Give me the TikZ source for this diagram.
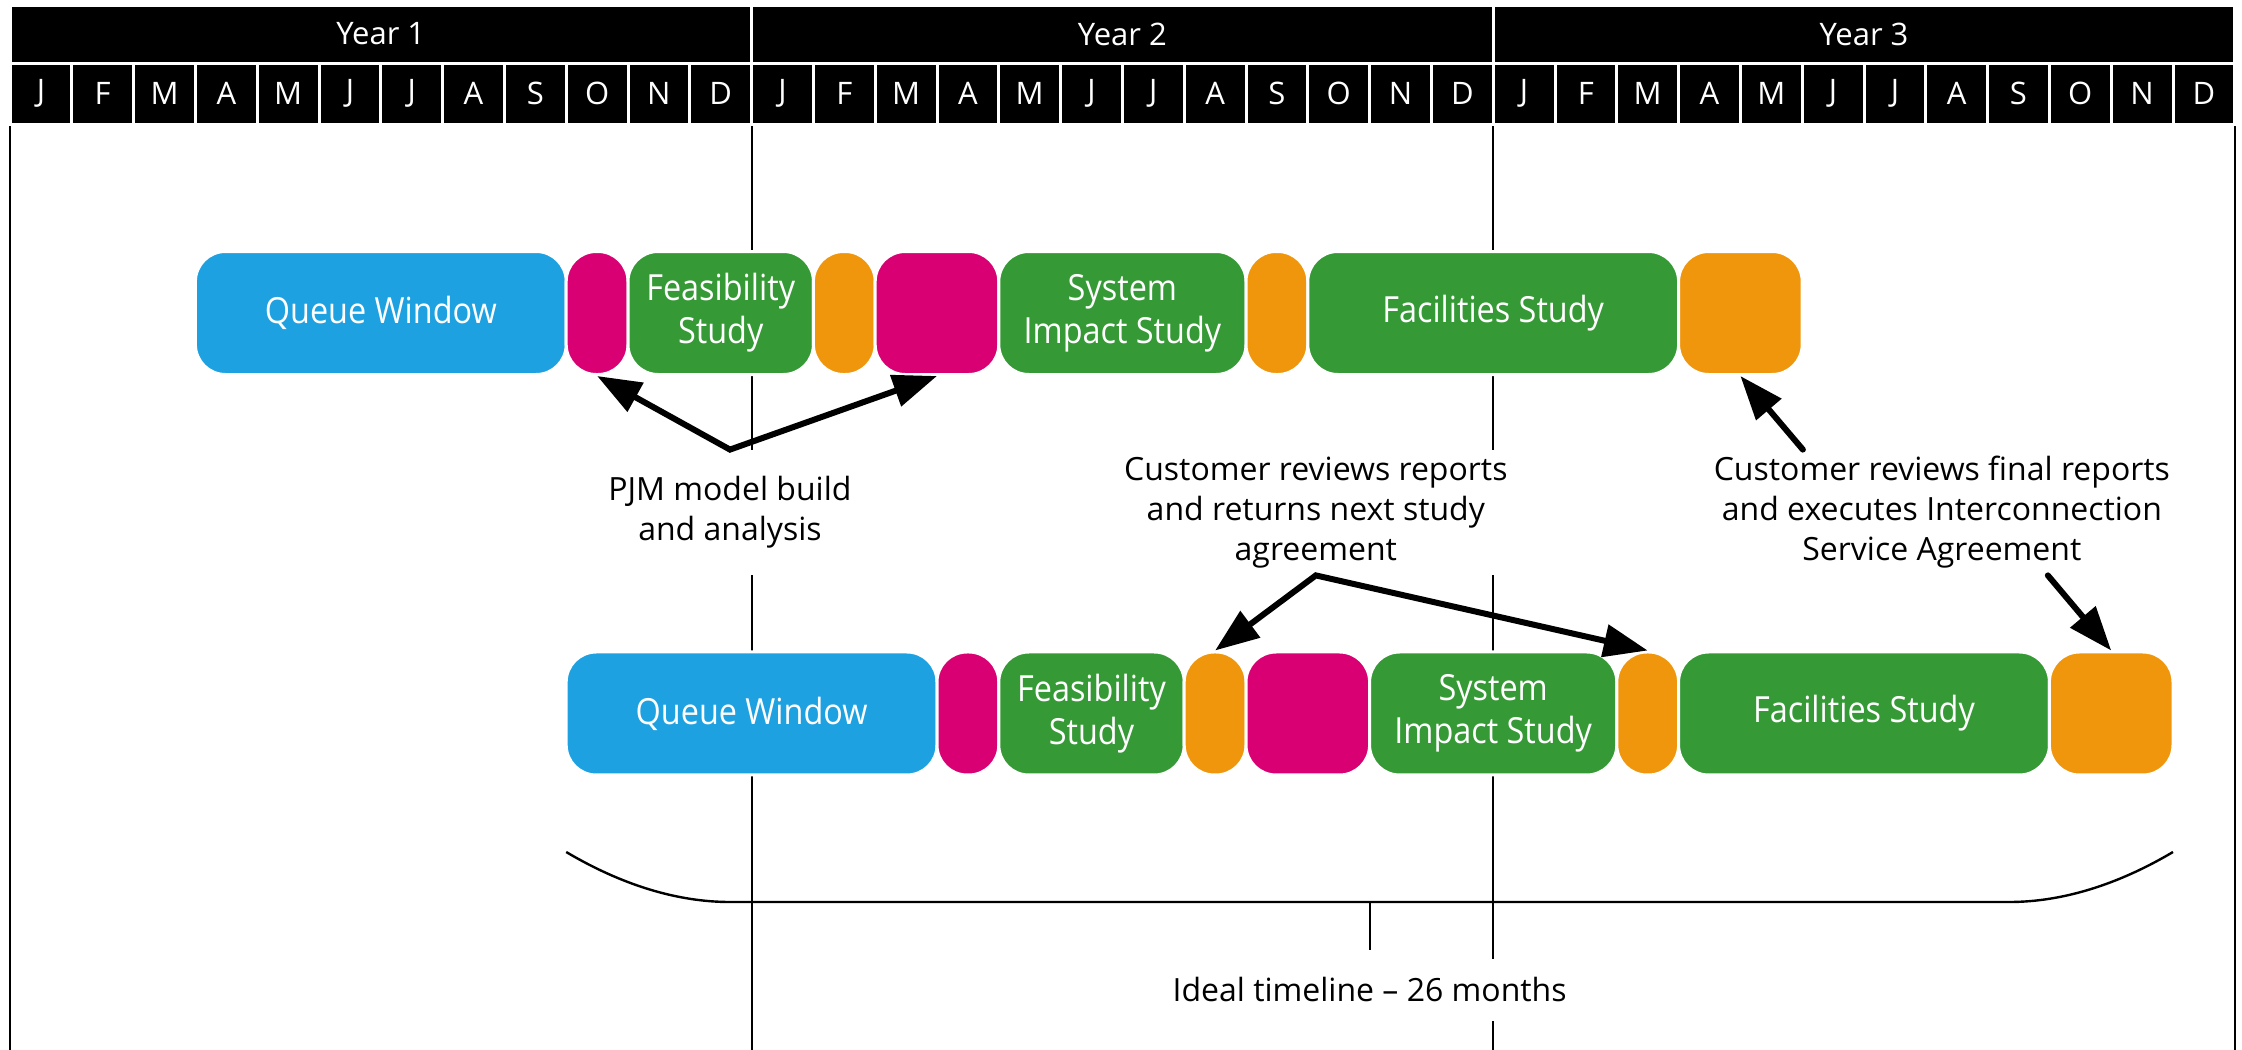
\documentclass[tikz,border=0pt]{standalone}
\usepackage{fontspec}
\setmainfont{Open Sans}
\newfontfamily\boxfont[FakeStretch=0.9]{Open Sans}
\usetikzlibrary{arrows.meta}

\definecolor{queueblue}{RGB}{30,161,225}
\definecolor{modelmagenta}{RGB}{217,0,115}
\definecolor{studygreen}{RGB}{53,154,53}
\definecolor{revieworange}{RGB}{240,150,12}

% one month on the time axis
\newcommand{\monthw}{30.9pt}

\tikzset{
  headcell/.style={fill=black, draw=white, line width=1.5pt, text=white,
    font=\fontsize{15.5}{18}\selectfont},
  frameline/.style={line width=1pt},
  phasebox/.style={draw=white, line width=1.5pt, rounded corners=15pt,
    minimum height=61.5pt, inner sep=0pt, text=white, align=center,
    font=\boxfont\fontsize{18}{21.5}\selectfont},
  queuebox/.style={phasebox, fill=queueblue},
  modelbox/.style={phasebox, fill=modelmagenta},
  studybox/.style={phasebox, fill=studygreen},
  reviewbox/.style={phasebox, fill=revieworange},
  notebox/.style={fill=white, align=center, minimum height=62.5pt,
    inner xsep=4pt, inner ysep=0pt, font=\fontsize{16}{20}\selectfont},
  pointer/.style={line width=3pt},
}

\begin{document}
\begin{tikzpicture}[x=\monthw,y=-0.5pt,>={Triangle[length=22pt,width=16pt]}]
\useasboundingbox (-0.162,0) rectangle (36.117,1050);

% Frame and year lines
\foreach \x in {0,12,24,36} {
  \draw[frameline] (\x,124) -- (\x,1050);
}

% Header: years
\foreach \yr [count=\n] in {0,12,24} {
  \draw[headcell] (\yr,5) rectangle (\yr+12,63) node[midway] (year\n) {Year \n};
}

% Header: months
\foreach \yr in {0,12,24} {
  \foreach \m [count=\i from 0] in {J,F,M,A,M,J,J,A,S,O,N,D} {
    \draw[headcell] (\yr+\i,63) rectangle (\yr+\i+1,124.5) node[midway] (mon\yr-\i) {\m};
  }
}

% Study boxes (second row starts six months later)
\foreach \row/\off/\y in {t/0/313, b/6/713.5} {
  \foreach \id/\ms/\me/\kind/\txt in {
      qw/3/9/queuebox/Queue Window,
      mod1/9/10/modelbox/{},
      fs/10/13/studybox/Feasibility\\Study,
      rev1/13/14/reviewbox/{},
      mod2/14/16/modelbox/{},
      sis/16/20/studybox/System\\Impact Study,
      rev2/20/21/reviewbox/{},
      fac/21/27/studybox/Facilities Study,
      rev3/27/29/reviewbox/{}} {
    \node[\kind, minimum width={(\me-\ms)*\monthw}] (\row\id) at ({\off+(\ms+\me)/2},\y) {\txt};
  }
}

% Notes
\node[notebox] (pjm) at (11.65,512.5) {PJM model build\\and analysis};
\node[notebox] (cust) at (21.13,512.5) {Customer reviews reports\\and returns next study\\agreement};
\node[notebox] (final) at (31.26,512.5) {Customer reviews final reports\\and executes Interconnection\\Service Agreement};
\node[notebox, minimum height=0pt, inner ysep=9.5pt] (ideal) at (22,990) {Ideal timeline – 26 months};

% Arrows
\draw[pointer,<->] (tmod1.south) -- (pjm.north) -- (tmod2.south);
\draw[pointer,<->] (brev1.north) -- (cust.south) -- (brev2.north);
\draw[pointer,->,line cap=round] ([xshift=-69.5pt]final.north) -- (trev3.south);
\draw[pointer,->,line cap=round] ([xshift=53pt]final.south) -- (brev3.north);

% Brace under the ideal timeline
\draw[line width=1.2pt] (9,852) .. controls (9.9,885) and (10.8,902) .. (11.65,902)
  -- (32.35,902) .. controls (33.2,902) and (34.1,885) .. (35,852);
\coordinate (bracetip) at (22,902);
\draw[frameline] (bracetip) -- ++(0,48);

\end{tikzpicture}
\end{document}
